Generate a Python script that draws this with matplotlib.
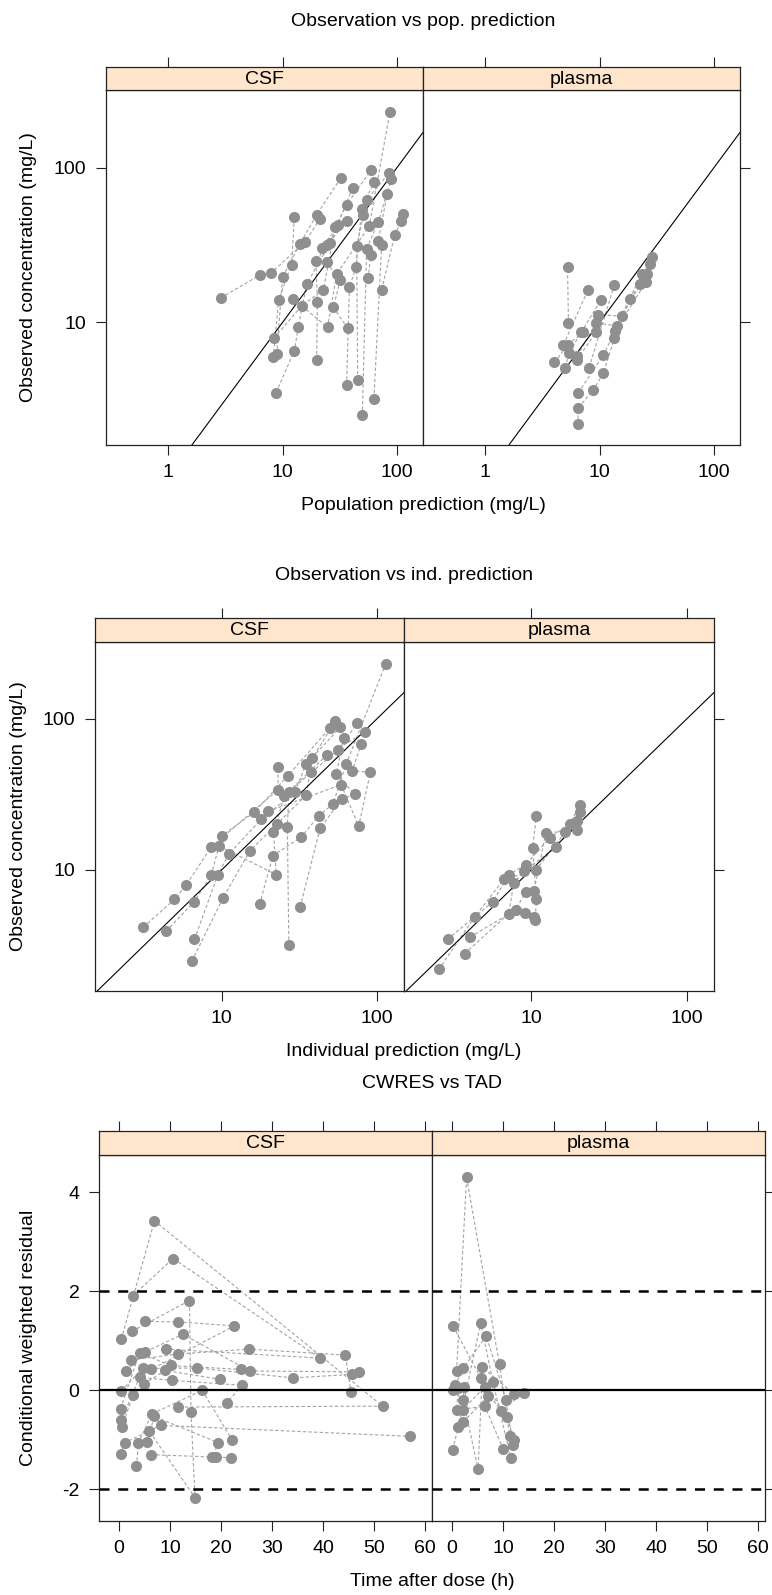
import matplotlib
matplotlib.use("Agg")
import matplotlib.pyplot as plt
from matplotlib.ticker import NullLocator
import numpy as np

plt.rcParams['font.family'] = ['Liberation Sans', 'DejaVu Sans']
plt.rcParams['axes.unicode_minus'] = False

# ---- data ---------------------------------------------------------------
panels = ["CSF", "plasma"]

# observation vs population prediction, CSF
pop_csf_pred = [8.77, 12.7, 13.7, 16.3, 26.0, 41.1,
                8.89, 10.0, 14.2, 19.9, 32.3,
                8.30, 9.25, 12.0, 12.7,
                2.87, 6.35, 7.93, 15.7, 21.3,
                8.42, 14.7, 22.8, 29.0, 36.4, 59.5,
                19.9, 20.2, 19.6, 24.3, 36.4,
                12.4, 24.8, 29.8, 57.5, 87.3,
                36.4, 38.5, 44.0, 49.3, 63.2,
                45.5, 44.6, 51.0, 54.5, 86.1,
                50.0, 54.5, 69.0, 89.7,
                63.2, 73.8, 69.0, 82.7,
                37.2, 27.9, 31.9, 24.3, 22.0, 30.8,
                73.8, 95.9, 110, 114,
                56.4, 59.1]
pop_csf_obs = [3.51, 6.55, 9.29, 17.7, 32.7, 74.1,
               6.22, 19.6, 32.3, 49.8, 86.1,
               5.93, 14.0, 23.7, 48.1,
               14.4, 20.3, 20.9, 33.1, 46.9,
               7.91, 12.8, 16.3, 41.4, 57.8, 96.6,
               5.72, 13.5, 24.8, 31.5, 45.1,
               14.2, 9.29, 20.6, 42.0, 231,
               3.92, 16.9, 22.7, 54.4, 81.1,
               4.25, 31.2, 49.3, 62.2, 93.2,
               2.50, 29.9, 44.6, 85.3,
               3.21, 31.8, 33.9, 68.1,
               9.15, 12.5, 18.7, 24.5, 30.3, 42.5,
               16.3, 36.6, 45.7, 50.5,
               19.3, 27.4]
pop_csf_id = ([1] * 6 + [2] * 5 + [3] * 4 + [4] * 5 + [5] * 6 + [6] * 5 + [7] * 5
              + [8] * 5 + [9] * 5 + [10] * 4 + [11] * 4 + [12] * 6 + [13] * 4 + [14] * 2)

# observation vs population prediction, plasma
pop_pla_pred = [5.34, 5.24,
                4.83, 7.88,
                8.10, 13.5,
                4.03, 5.24, 7.22,
                5.00, 5.42, 6.89, 10.3,
                6.45, 6.53, 8.83, 10.8, 13.5, 18.5, 22.6,
                6.53, 10.8, 13.7, 25.5, 28.6,
                6.40, 9.31, 14.1, 23.4, 27.6,
                6.32, 9.31, 9.64, 15.6, 25.8]
pop_pla_obs = [9.91, 22.7,
               7.16, 16.1,
               5.10, 17.5,
               5.50, 7.16, 8.62,
               5.10, 6.38, 8.62, 14.0,
               2.19, 2.80, 3.66, 4.69, 7.91, 14.2, 17.7,
               3.51, 6.14, 8.83, 18.2, 26.4,
               6.08, 9.91, 9.51, 20.6, 23.9,
               5.73, 8.62, 11.2, 11.0, 20.6]
pop_pla_id = [1] * 2 + [2] * 2 + [3] * 2 + [4] * 3 + [5] * 4 + [6] * 7 + [7] * 5 + [8] * 5 + [9] * 5

# observation vs individual prediction, CSF
ind_csf_pred = [3.13, 4.95, 5.89, 8.54, 23.0, 23.0,
                4.38, 6.61, 8.54, 10.0, 16.2, 26.6, 49.3,
                6.42, 10.2, 15.2, 22.7, 34.9, 38.2, 53.7,
                6.67, 9.43, 11.1, 17.9, 29.4, 34.9, 57.8,
                17.5, 21.3, 32.4, 42.1, 51.9, 63.1, 113,
                27.0, 26.4, 27.0, 37.6, 55.8, 74.3,
                31.9, 42.9, 59.3, 71.5, 54.5, 60.7,
                9.66, 22.4, 21.5, 25.3, 47.4, 82.8,
                19.8, 58.6, 75.9, 90.2, 69.0, 78.9]
ind_csf_obs = [4.17, 6.37, 7.89, 14.1, 33.9, 47.5,
               3.92, 6.12, 9.19, 16.8, 24.0, 41.9, 85.9,
               2.49, 6.53, 13.4, 20.1, 31.2, 54.4, 96.5,
               3.47, 9.27, 12.7, 21.5, 32.5, 50.0, 87.3,
               5.90, 12.4, 16.4, 22.8, 27.2, 50.0, 228,
               3.17, 19.1, 32.8, 44.0, 61.8, 93.2,
               5.67, 18.8, 29.4, 31.6, 42.9, 73.8,
               14.3, 9.27, 17.7, 30.9, 57.3, 80.9,
               24.3, 36.5, 19.4, 44.0, 45.2, 67.8]
ind_csf_id = [1] * 6 + [2] * 7 + [3] * 7 + [4] * 7 + [5] * 7 + [6] * 6 + [7] * 6 + [8] * 6 + [9] * 6

# observation vs individual prediction, plasma
ind_pla_pred = [2.55, 4.34, 6.67, 10.7, 16.5, 20.5,
                2.91, 5.66, 7.18, 9.20, 13.2, 17.7,
                3.74, 7.18, 7.73, 8.98, 14.4, 19.8,
                4.06, 7.93, 9.20, 10.4, 12.4, 19.8, 20.5,
                9.10, 10.4, 10.6, 10.8, 10.2, 10.8]
ind_pla_obs = [2.19, 4.87, 8.63, 9.91, 17.7, 26.6,
               3.47, 6.12, 9.27, 10.8, 16.3, 20.1,
               2.79, 5.13, 8.20, 9.76, 14.1, 21.1,
               3.60, 5.40, 7.13, 7.20, 17.5, 18.2, 24.0,
               5.18, 4.87, 4.63, 6.37, 14.0, 22.5]
ind_pla_id = [1] * 6 + [2] * 6 + [3] * 6 + [4] * 7 + [5] * 6

# CWRES vs time after dose, CSF
tad_csf = [0.42, 6.93, 51.7, 11.6,
           2.70, 10.6, 39.4, 9.2,
           2.51, 13.8, 14.1, 14.9, 5.96,
           4.98, 11.6, 22.6, 6.29,
           2.38, 11.5, 25.5, 44.4, 45.5,
           1.40, 5.0, 12.5, 25.6, 47.1,
           0.42, 4.65, 15.2, 34.1, 45.7,
           0.29, 4.0, 10.1, 23.9,
           0.42, 4.0, 10.3, 24.2, 21.1,
           0.55, 2.70, 4.85, 9.08, 19.8,
           0.29, 1.07, 8.2, 57.0,
           3.4, 3.8, 6.4, 16.3, 22.2,
           5.5, 6.9, 19.5, 18.3,
           6.2, 18.98, 21.9]
cwres_csf = [1.03, 3.42, -0.32, -0.34,
             1.91, 2.66, 0.65, 0.83,
             1.19, 1.81, -0.44, -2.17, -0.83,
             1.39, 1.38, 1.30, 0.42,
             0.61, 0.73, 0.83, 0.71, -0.03,
             0.39, 0.77, 1.13, 0.39, 0.37,
             -0.01, 0.44, 0.45, 0.25, 0.32,
             -0.37, 0.76, 0.50, 0.42,
             -0.61, 0.26, 0.20, 0.10, -0.25,
             -0.75, -0.10, 0.13, 0.40, 0.22,
             -1.29, -1.06, -0.71, -0.93,
             -1.53, -1.06, -0.48, 0.0, -1.01,
             -1.04, -0.53, -1.06, -1.35,
             -1.30, -1.35, -1.36]
cwres_csf_id = ([1] * 4 + [2] * 4 + [3] * 5 + [4] * 4 + [5] * 5 + [6] * 5 + [7] * 5
                + [8] * 4 + [9] * 5 + [10] * 5 + [11] * 4 + [12] * 5 + [13] * 4 + [14] * 3)

# CWRES vs time after dose, plasma
tad_pla = [0.87, 2.83, 9.3, 11.3,
           0.22, 5.6, 10.8, 12.1,
           0.09, 1.2, 5.6, 8.0, 11.5,
           0.55, 2.17, 6.7, 10.6, 11.9,
           0.22, 2.17, 5.1, 5.96, 12.1,
           1.2, 0.87, 6.4, 10.0,
           2.37, 2.05, 6.4, 9.5, 14.1,
           2.17, 7.05]
cwres_pla = [0.39, 4.30, 0.52, -0.93,
             1.29, 0.25, -0.54, -1.01,
             -1.20, -0.75, 1.35, 0.17, -1.36,
             0.10, 0.44, 1.10, -0.19, -1.11,
             0.0, -0.19, -1.60, 0.46, -0.07,
             0.05, -0.40, -0.32, -1.18,
             0.07, -0.40, 0.07, -0.42, -0.05,
             -0.64, -0.12]
cwres_pla_id = [1] * 4 + [2] * 4 + [3] * 5 + [4] * 5 + [5] * 5 + [6] * 4 + [7] * 5 + [8] * 2

# ---- drawing --------------------------------------------------------------
W, H = 772, 1595
fig = plt.figure(figsize=(W / 100, H / 100), dpi=100)

POINT = '#8f8f8f'
LINE = '#a3a3a3'
STRIP = '#ffe5cc'
FRAME = '#222222'
FS = 14
TICK = dict(direction='out', length=7, width=0.8, color=FRAME, labelsize=FS, pad=7)


def px_axes(l, t, r, b):
    return fig.add_axes([l / W, 1 - b / H, (r - l) / W, (b - t) / H])


def draw_subjects(ax, x, y, ids):
    x, y, ids = np.asarray(x), np.asarray(y), np.asarray(ids)
    for s in np.unique(ids):
        m = ids == s
        ax.plot(x[m], y[m], ls=(0, (3, 2)), lw=0.8, color=LINE, zorder=2)
    ax.plot(x, y, 'o', ms=8, color=POINT, mec='none', zorder=3)


def facet_pair(strip_top, top, bottom, edges, xlim, ylim, xticks, yticks, log):
    axs = []
    for i, name in enumerate(panels):
        l, r = edges[i], edges[i + 1]
        ax = px_axes(l, top, r, bottom)
        st = px_axes(l, strip_top, r, top)
        if log:
            ax.set_xscale('log')
            ax.set_yscale('log')
            st.set_xscale('log')
        for a in (ax, st):
            for sp in a.spines.values():
                sp.set_linewidth(0.9)
                sp.set_color(FRAME)
        st.set_facecolor(STRIP)
        st.set_xticks(xticks)
        st.xaxis.set_minor_locator(NullLocator())
        st.set_yticks([])
        st.set_xlim(xlim)
        st.set_ylim(0, 1)
        st.tick_params(axis='x', bottom=False, top=True, labelbottom=False, **TICK)
        st.text(0.5, 0.47, name, ha='center', va='center', transform=st.transAxes, fontsize=FS)

        ax.set_xticks(xticks, [f"{t:g}" for t in xticks])
        ax.set_yticks(yticks, [f"{t:g}" for t in yticks])
        ax.xaxis.set_minor_locator(NullLocator())
        ax.yaxis.set_minor_locator(NullLocator())
        ax.tick_params(axis='x', **TICK)
        if i == 0:
            ax.tick_params(axis='y', left=True, right=False, labelleft=True, **TICK)
        else:
            ax.tick_params(axis='y', left=False, right=True, labelleft=False, **TICK)
        axs.append(ax)
    return axs


def finish(axs, xlim, ylim):
    for ax in axs:
        ax.set_xlim(xlim)
        ax.set_ylim(ylim)


# 1) observation vs population prediction
xl1, yl1 = (0.284, 170), (1.607, 320)
a1 = facet_pair(67, 90, 445, [106, 423, 740], xl1, yl1, [1, 10, 100], [10, 100], True)
for ax, (x, y, g) in zip(a1, [(pop_csf_pred, pop_csf_obs, pop_csf_id),
                               (pop_pla_pred, pop_pla_obs, pop_pla_id)]):
    ax.plot([0.01, 1000], [0.01, 1000], color='black', lw=0.8, zorder=2.5)
    draw_subjects(ax, x, y, g)
finish(a1, xl1, yl1)

# 2) observation vs individual prediction
xl2, yl2 = (1.528, 148.6), (1.578, 320.6)
a2 = facet_pair(618, 642, 991, [95, 404, 714], xl2, yl2, [10, 100], [10, 100], True)
for ax, (x, y, g) in zip(a2, [(ind_csf_pred, ind_csf_obs, ind_csf_id),
                               (ind_pla_pred, ind_pla_obs, ind_pla_id)]):
    ax.plot([0.01, 1000], [0.01, 1000], color='black', lw=0.8, zorder=2.5)
    draw_subjects(ax, x, y, g)
finish(a2, xl2, yl2)

# 3) CWRES vs TAD
xl3, yl3 = (-3.95, 61.4), (-2.64, 4.75)
a3 = facet_pair(1131, 1155, 1521, [99, 432, 765], xl3, yl3,
                [0, 10, 20, 30, 40, 50, 60], [-2, 0, 2, 4], False)
for ax, (x, y, g) in zip(a3, [(tad_csf, cwres_csf, cwres_csf_id),
                               (tad_pla, cwres_pla, cwres_pla_id)]):
    draw_subjects(ax, x, y, g)
    ax.axhline(0, color='black', lw=1.6, zorder=4)
    for h in (-2, 2):
        ax.axhline(h, color='black', lw=1.8, ls=(0, (4, 3.5)), zorder=4)
finish(a3, xl3, yl3)

# titles and axis labels
def ftext(x, y, s, **kw):
    fig.text(x / W, 1 - y / H, s, ha='center', va='center', fontsize=FS, **kw)

ftext(423, 22, "Observation vs pop. prediction")
ftext(423, 506, "Population prediction (mg/L)")
ftext(29, 267, "Observed concentration (mg/L)", rotation=90)

ftext(404, 575, "Observation vs ind. prediction")
ftext(404, 1052, "Individual prediction (mg/L)")
ftext(19, 816, "Observed concentration (mg/L)", rotation=90)

ftext(432, 1084, "CWRES vs TAD")
ftext(432, 1582, "Time after dose (h)")
ftext(29, 1338, "Conditional weighted residual", rotation=90)

fig.savefig("out.png", dpi=100)
